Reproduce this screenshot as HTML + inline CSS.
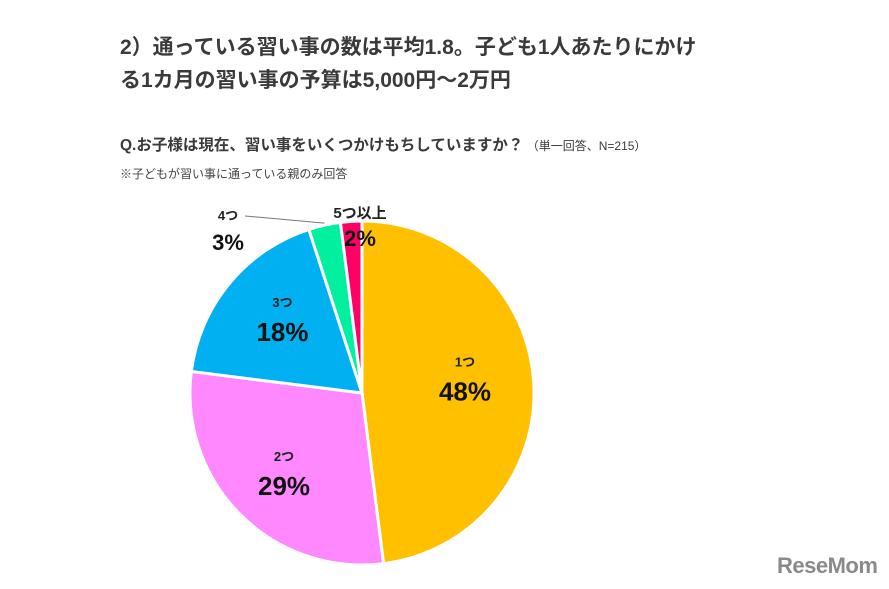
<!DOCTYPE html>
<html><head><meta charset="utf-8"><style>
body{margin:0;width:889px;height:589px;background:#fff;overflow:hidden;font-family:"Liberation Sans","Noto Sans CJK JP",sans-serif;position:relative}
.t{position:absolute;color:#333;white-space:nowrap}
</style></head><body>
<div class="t" style="left:120px;top:31px;font-size:21px;font-weight:bold;color:#3a3a3a">2）通っている習い事の数は平均1.8。子ども1人あたりにかけ</div>
<div class="t" style="left:120px;top:64px;font-size:21px;font-weight:bold;color:#3a3a3a">る1カ月の習い事の予算は5,000円～2万円</div>
<div class="t" style="left:120px;top:133px;font-size:15.5px;font-weight:bold;color:#3a3a3a">Q.お子様は現在、習い事をいくつかけもちしていますか？<span style="font-size:12px;font-weight:normal"> （単一回答、N=215）</span></div>
<div class="t" style="left:120px;top:165px;font-size:12px;color:#444">※子どもが習い事に通っている親のみ回答</div>
<svg id="chart" width="889" height="589" style="position:absolute;left:0;top:0"></svg>
<div class="t" style="left:777px;top:553px;font-size:22px;font-weight:bold;color:#8a8a8a;letter-spacing:-0.5px">ReseMom</div>
<script>
const categories=["1つ","2つ","3つ","4つ","5つ以上"];
const values=[48,29,18,3,2];
const colors=["#ffc000","#ff88ff","#00b0f0","#00f0a0","#ff0066"];
const svg=document.getElementById('chart');
const NS="http://www.w3.org/2000/svg";
const cx=362,cy=393,r=172;
const total=values.reduce((a,b)=>a+b,0);
function pt(a,rr){return [cx+rr*Math.sin(a),cy-rr*Math.cos(a)];}
let acc=0;
values.forEach((v,i)=>{
 const a0=acc/total*2*Math.PI; acc+=v; const a1=acc/total*2*Math.PI;
 const [x0,y0]=pt(a0,r),[x1,y1]=pt(a1,r);
 const p=document.createElementNS(NS,'path');
 p.setAttribute('d',`M${cx},${cy}L${x0},${y0}A${r},${r} 0 ${a1-a0>Math.PI?1:0} 1 ${x1},${y1}Z`);
 p.setAttribute('fill',colors[i]);p.setAttribute('stroke','#fff');p.setAttribute('stroke-width','3');
 
 
 svg.appendChild(p);
 const mid=(a0+a1)/2;
 let lx,ly,catY,pctY,anchor='middle';
 if(i<3){[lx,ly]=pt(mid,r*0.6);if(i===1){ly+=15;lx-=5;}catY=ly-20;pctY=ly+14;}
 else if(i===3){lx=228;catY=220;pctY=250;}
 else{lx=360;catY=218;pctY=246;}
 const t1=document.createElementNS(NS,'text');
 t1.setAttribute('x',lx);t1.setAttribute('y',catY);t1.setAttribute('text-anchor',anchor);
 t1.setAttribute('font-size',i===4?'15':'13');t1.setAttribute('font-weight','bold');t1.setAttribute('fill','#222');
 t1.textContent=categories[i];
 
 
 svg.appendChild(t1);
 const t2=document.createElementNS(NS,'text');
 t2.setAttribute('x',lx);t2.setAttribute('y',pctY);t2.setAttribute('text-anchor',anchor);
 t2.setAttribute('font-size',i<3?'26':'22');t2.setAttribute('font-weight','bold');t2.setAttribute('fill','#111');
 t2.textContent=v+'%';
 
 
 svg.appendChild(t2);
 if(i===3){
  const [ex,ey]=pt(mid,r);
  const l=document.createElementNS(NS,'polyline');
  l.setAttribute('points',`245,216 ${ex},${ey-2}`);
  l.setAttribute('stroke','#777');l.setAttribute('fill','none');
  
  
  svg.appendChild(l);
 }
});
</script>
</body></html>
